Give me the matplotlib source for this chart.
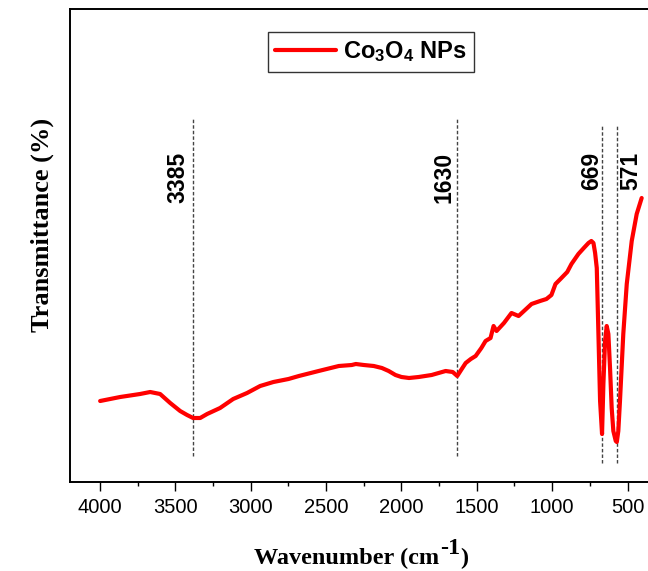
import matplotlib
matplotlib.use("Agg")
import matplotlib.pyplot as plt

plt.rcParams['mathtext.default'] = 'regular'

wavenumber = [4000, 3867, 3735, 3668, 3602, 3535, 3469, 3423, 3383, 3336, 3290,
              3204, 3117, 3025, 2938, 2850, 2750, 2681, 2550, 2416, 2330, 2303,
              2250, 2184, 2130, 2085, 2040, 2000, 1950, 1886, 1800, 1707, 1660,
              1630, 1600, 1574, 1540, 1508, 1470, 1442, 1409, 1389, 1369, 1320,
              1270, 1223, 1180, 1137, 1080, 1038, 1005, 978, 945, 900, 872, 826,
              790, 759, 740, 726, 715, 704, 693, 682, 669, 660, 649, 638, 627,
              616, 605, 594, 578, 571, 561, 550, 528, 505, 472, 439, 406]
transmittance = [16.2, 17.0, 17.6, 18.0, 17.6, 15.8, 14.2, 13.4, 12.8, 12.8, 13.6,
                 14.8, 16.6, 17.8, 19.2, 20.0, 20.6, 21.2, 22.2, 23.2, 23.4, 23.6,
                 23.4, 23.2, 22.8, 22.2, 21.4, 21.0, 20.8, 21.0, 21.4, 22.2, 22.0,
                 21.2, 22.6, 23.8, 24.6, 25.2, 26.8, 28.2, 28.8, 31.2, 30.2, 31.8,
                 33.8, 33.2, 34.4, 35.6, 36.2, 36.6, 37.4, 39.6, 40.6, 42.0, 43.6,
                 45.6, 46.8, 47.8, 48.2, 47.8, 45.8, 42.8, 29.6, 16.2, 9.6, 19.6,
                 28.2, 31.2, 29.6, 22.8, 14.8, 10.2, 8.2, 8.0, 10.2, 16.2, 29.6,
                 39.6, 48.2, 53.6, 56.8]

peak_positions = [3385, 1630, 669, 571]
peak_labels = ["3385", "1630", "669", "571"]
label_offsets_pt = [-10.8, -9.4, -7.2, 10.1]
line_tops = [72.6, 72.6, 71.2, 71.2]
line_bottoms = [5.2, 5.2, 3.8, 3.8]

xticks = [4000, 3500, 3000, 2500, 2000, 1500, 1000, 500]
minor_xticks = [3750, 3250, 2750, 2250, 1750, 1250, 750]

W, H = 648, 571
fig = plt.figure(figsize=(W / 100, H / 100), dpi=100)
ax = fig.add_axes([70 / W, 1 - 482 / H, (W - 70) / W, (482 - 9) / H])

ax.plot(wavenumber, transmittance, color='#ff0000', lw=3, solid_joinstyle='round',
        solid_capstyle='round', label='Co$_3$O$_4$ NPs', zorder=3)

for pos, lab, off, top, bot in zip(peak_positions, peak_labels, label_offsets_pt,
                                   line_tops, line_bottoms):
    ax.plot([pos, pos], [bot, top], color='#444444', lw=1.0,
            linestyle=(0, (2.5, 1.5)), zorder=2)
    ax.annotate(lab, xy=(pos, 66.0), xytext=(off, 0), textcoords='offset points',
                rotation=90, ha='center', va='top', fontsize=16.5,
                fontweight='bold', family='Liberation Sans')

ax.set_xlim(4200, 364)
ax.set_ylim(0, 94.6)
ax.set_xticks(xticks)
ax.set_xticks(minor_xticks, minor=True)
ax.set_yticks([])
ax.tick_params(axis='x', which='major', direction='out', length=6.5, width=1.0,
               pad=5, labelsize=14.5)
ax.tick_params(axis='x', which='minor', direction='out', length=3, width=1.0)
for lab in ax.get_xticklabels():
    lab.set_family('Liberation Sans')
ax.spines['right'].set_visible(False)
for s in ['left', 'top', 'bottom']:
    ax.spines[s].set_linewidth(1.4)

leg = ax.legend(loc='center', bbox_to_anchor=((371 - 70) / (W - 70), (482 - 52) / (482 - 9)),
                prop={'family': 'Liberation Sans', 'weight': 'bold', 'size': 17},
                frameon=True, fancybox=False, handlelength=2.6, handletextpad=0.3,
                borderpad=0.3, borderaxespad=0)
leg.get_frame().set_edgecolor('black')
leg.get_frame().set_linewidth(1.0)

lbl_font = dict(fontsize=17.5, fontweight='bold', family='Liberation Serif')
t1 = fig.text(254 / W, 1 - 569 / H, 'Wavenumber (cm', ha='left', va='bottom', **lbl_font)
t2 = fig.text(0, 0, '', **lbl_font)
t2 = plt.annotate('-1', xy=(1, 0), xycoords=t1, xytext=(0.5, 7.5),
                  textcoords='offset points', ha='left', va='bottom',
                  annotation_clip=False, **lbl_font)
t3 = plt.annotate(')', xy=(1, 0), xycoords=(t2, t1), ha='left', va='bottom',
                  annotation_clip=False, **lbl_font)
fig.text(42 / W, 1 - 225 / H, 'Transmittance (%)', ha='center', va='center',
         rotation=90, fontsize=19, fontweight='bold', family='Liberation Serif')

fig.savefig('out.png', dpi=100)
